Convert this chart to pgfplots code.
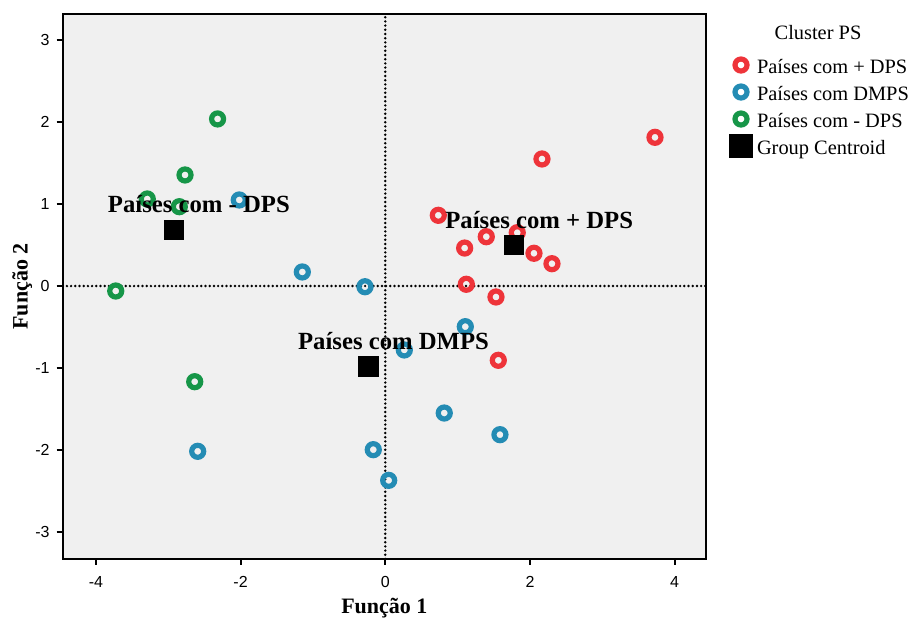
\documentclass[border=0pt]{standalone}
\usepackage{fontspec}
\setmainfont{Liberation Serif}
\newfontfamily\ticksans{Liberation Sans}
\usepackage{pgfplots}
\usepackage{pgfplotstable}
\pgfplotsset{compat=1.18}

\definecolor{clRed}{RGB}{238,52,58}
\definecolor{clBlue}{RGB}{36,140,180}
\definecolor{clGreen}{RGB}{22,150,72}
\definecolor{panel}{RGB}{240,240,240}

% Discriminant scores (Função 1, Função 2) per cluster
\pgfplotstableread{
x y
3.728 1.813
2.166 1.549
0.733 0.862
1.396 0.601
1.097 0.463
1.824 0.650
2.055 0.399
2.304 0.272
1.120 0.021
1.530 -0.134
1.562 -0.906
}\maisdps

\pgfplotstableread{
x y
-2.018 1.049
-1.147 0.171
-0.281 -0.009
-2.593 -2.016
1.106 -0.496
0.263 -0.780
0.815 -1.549
1.585 -1.813
-0.166 -1.996
0.047 -2.370
}\dmps

\pgfplotstableread{
x y
-2.318 2.037
-2.768 1.354
-3.290 1.061
-2.847 0.967
-3.726 -0.061
-2.634 -1.167
}\menosdps

\pgfplotstableread[col sep=comma]{
x,y,rotulo
-2.925,0.691,Países com - DPS
1.779,0.504,Países com + DPS
-0.235,-0.979,Países com DMPS
}\centroides

\pgfplotsset{
  ring/.style={only marks, mark=o, mark size=3.0pt,
    mark options={draw=#1, fill=white, line width=2.6pt}},
  dotlegend/.style={legend image code/.code={\draw[##1] plot coordinates {(0pt,0pt)};}},
  squarelegend/.style={legend image code/.code={\draw[##1, overlay] plot coordinates {(0pt,0pt)};}},
  refline/.style={forget plot, black, line width=1.35pt, dash pattern=on 0pt off 2.1pt, line cap=round},
}

\begin{document}
\begin{tikzpicture}
\begin{axis}[
  width=321.65pt, height=272.5pt, scale only axis,
  xmin=-4.459, xmax=4.433, ymin=-3.329, ymax=3.317,
  axis background/.style={fill=panel},
  axis line style={line width=1pt},
  xtick={-4,-2,0,2,4}, ytick={-3,-2,-1,0,1,2,3},
  xtick pos=left, ytick pos=left,
  tick align=outside, major tick length=3pt,
  tick style={line width=1pt, black},
  /pgf/number format/assume math mode=true,
  ticklabel style={font=\ticksans\fontsize{8}{9.6}\selectfont},
  xticklabel style={yshift=-2pt},
  xlabel={Função 1}, ylabel={Função 2},
  label style={font=\bfseries\fontsize{11}{13}\selectfont},
  xlabel style={at={(axis description cs:0.5,-0.0991)}, anchor=base},
  ylabel style={at={(axis description cs:-0.0545,0.5)}, anchor=base},
  legend cell align=left,
  legend style={at={(1.0451,0.9242)}, anchor=north west, draw=none, fill=none,
    inner sep=0pt, outer sep=0pt, row sep=3.8pt, column sep=5pt,
    font=\fontsize{10.2}{12}\selectfont, cells={anchor=west},
    nodes={inner sep=0pt, text height=9pt, text depth=0.7pt}},
]
% reference lines through the origin
\addplot[refline] coordinates {(0,-3.329) (0,3.317)};
\addplot[refline] coordinates {(-4.459,0) (4.433,0)};

\addplot[forget plot, ring=clRed] table {\maisdps};
\addplot[forget plot, ring=clBlue] table {\dmps};
\addplot[forget plot, ring=clGreen] table {\menosdps};

% group centroids with their labels
\addplot[forget plot, only marks, mark=square*, mark size=4.8pt,
  mark options={fill=black, draw=black, line width=0.2pt},
  nodes near coords, point meta=explicit symbolic,
  nodes near coords style={font=\bfseries\fontsize{12.35}{14}\selectfont,
    anchor=base, xshift=12.6pt, yshift=8.25pt, text=black, inner sep=0pt}]
  table[x=x, y=y, meta=rotulo] {\centroides};

\addlegendimage{ring=clRed, dotlegend}
\addlegendentry{Países com + DPS}
\addlegendimage{ring=clBlue, dotlegend}
\addlegendentry{Países com DMPS}
\addlegendimage{ring=clGreen, dotlegend}
\addlegendentry{Países com - DPS}
\addlegendimage{only marks, mark=square*, mark size=5.8pt,
  mark options={fill=black, draw=black}, squarelegend}
\addlegendentry{Group Centroid}
\end{axis}
\node[font=\fontsize{10.2}{12}\selectfont, anchor=base] at (377.65pt,259.5pt) {Cluster PS};
\pgfresetboundingbox
\useasboundingbox (-31.35pt,-30.5pt) rectangle (424.15pt,279.5pt);
\end{tikzpicture}
\end{document}
